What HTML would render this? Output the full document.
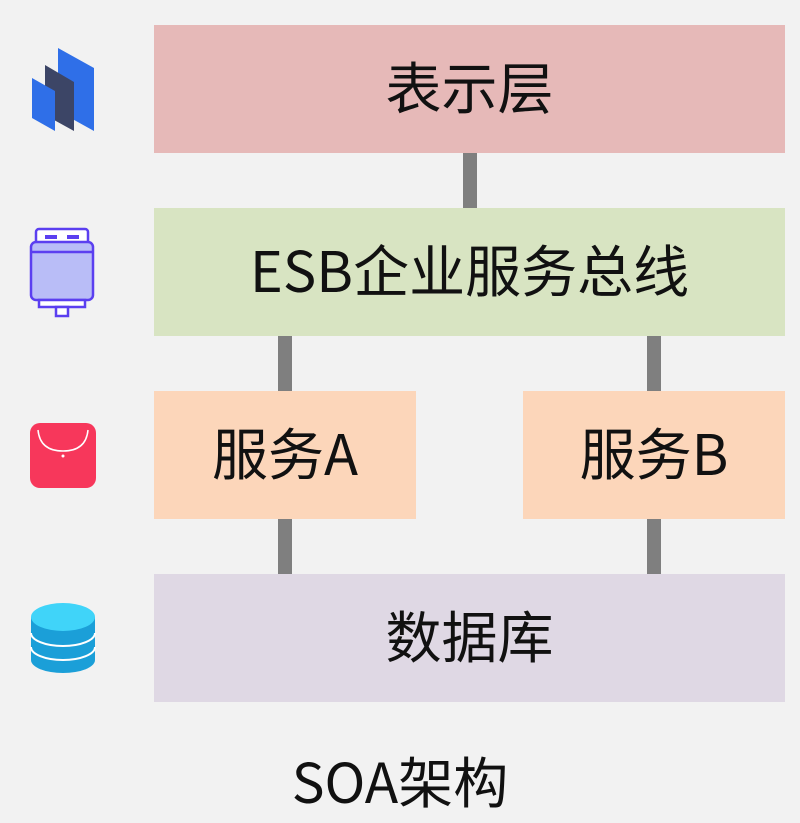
<!DOCTYPE html>
<html><head><meta charset="utf-8"><style>
body{margin:0;width:800px;height:823px;background:#f2f2f2;position:relative;overflow:hidden;font-family:"Noto Sans CJK SC","Liberation Sans",sans-serif;}
.b{position:absolute;display:flex;align-items:center;justify-content:center;font-size:56px;color:#111;line-height:1;box-sizing:border-box;padding-bottom:6px;}
.c{position:absolute;background:#7f7f7f;width:14px;}
</style></head><body>
<div class="c" style="left:463px;top:150px;height:62px"></div>
<div class="c" style="left:278px;top:333px;height:62px"></div>
<div class="c" style="left:647px;top:333px;height:62px"></div>
<div class="c" style="left:278px;top:516px;height:62px"></div>
<div class="c" style="left:647px;top:516px;height:62px"></div>
<div class="b" style="left:154px;top:25px;width:631px;height:128px;background:#e6b9b8">表示层</div>
<div class="b" style="left:154px;top:208px;width:631px;height:128px;background:#d8e4c2">ESB企业服务总线</div>
<div class="b" style="left:154px;top:391px;width:262px;height:128px;background:#fcd6ba">服务A</div>
<div class="b" style="left:523px;top:391px;width:262px;height:128px;background:#fcd6ba">服务B</div>
<div class="b" style="left:154px;top:574px;width:631px;height:128px;background:#dfd8e4">数据库</div>
<div class="b" style="left:200px;top:750px;width:400px;height:60px;font-size:55px;padding-bottom:2px">SOA架构</div>
<svg style="position:absolute;left:0;top:0" width="800" height="823">
<polygon points="58,48 94,68 94,131 58,111" fill="#2f6fe8"/>
<polygon points="45,65 74,82 74,131 45,115" fill="#3c4566"/>
<polygon points="32,78 55,91 55,131 32,118" fill="#2f6fe8"/>
<rect x="36" y="229" width="52" height="16" rx="3" fill="#fff" stroke="#5b3ff0" stroke-width="2.5"/>
<rect x="45" y="235" width="12" height="4" fill="#5b3ff0"/><rect x="67" y="235" width="12" height="4" fill="#5b3ff0"/>
<rect x="31" y="242" width="62" height="58" rx="5" fill="#b9bdf7" stroke="#5b3ff0" stroke-width="2.5"/>
<line x1="31" y1="252" x2="93" y2="252" stroke="#5b3ff0" stroke-width="2.5"/>
<rect x="39" y="300" width="46" height="7" fill="#fff" stroke="#5b3ff0" stroke-width="2.5"/>
<rect x="56" y="307" width="12" height="9" fill="#fff" stroke="#5b3ff0" stroke-width="2.5"/>
<rect x="30" y="423" width="66" height="65" rx="10" fill="#f7375b"/>
<path d="M38,430 Q40,451 63,451 Q86,451 88,430" fill="none" stroke="#fff" stroke-width="1.5"/>
<circle cx="63" cy="456" r="1.5" fill="#fff"/>
<path d="M31,617 V660 A32,13 0 0 0 95,660 V617 Z" fill="#1b9fd8"/>
<ellipse cx="63" cy="617" rx="32" ry="14" fill="#40d4f9"/>
<path d="M31,633 A32,13 0 0 0 95,633 M31,647 A32,13 0 0 0 95,647" fill="none" stroke="#fff" stroke-width="2"/>
</svg>
</body></html>
